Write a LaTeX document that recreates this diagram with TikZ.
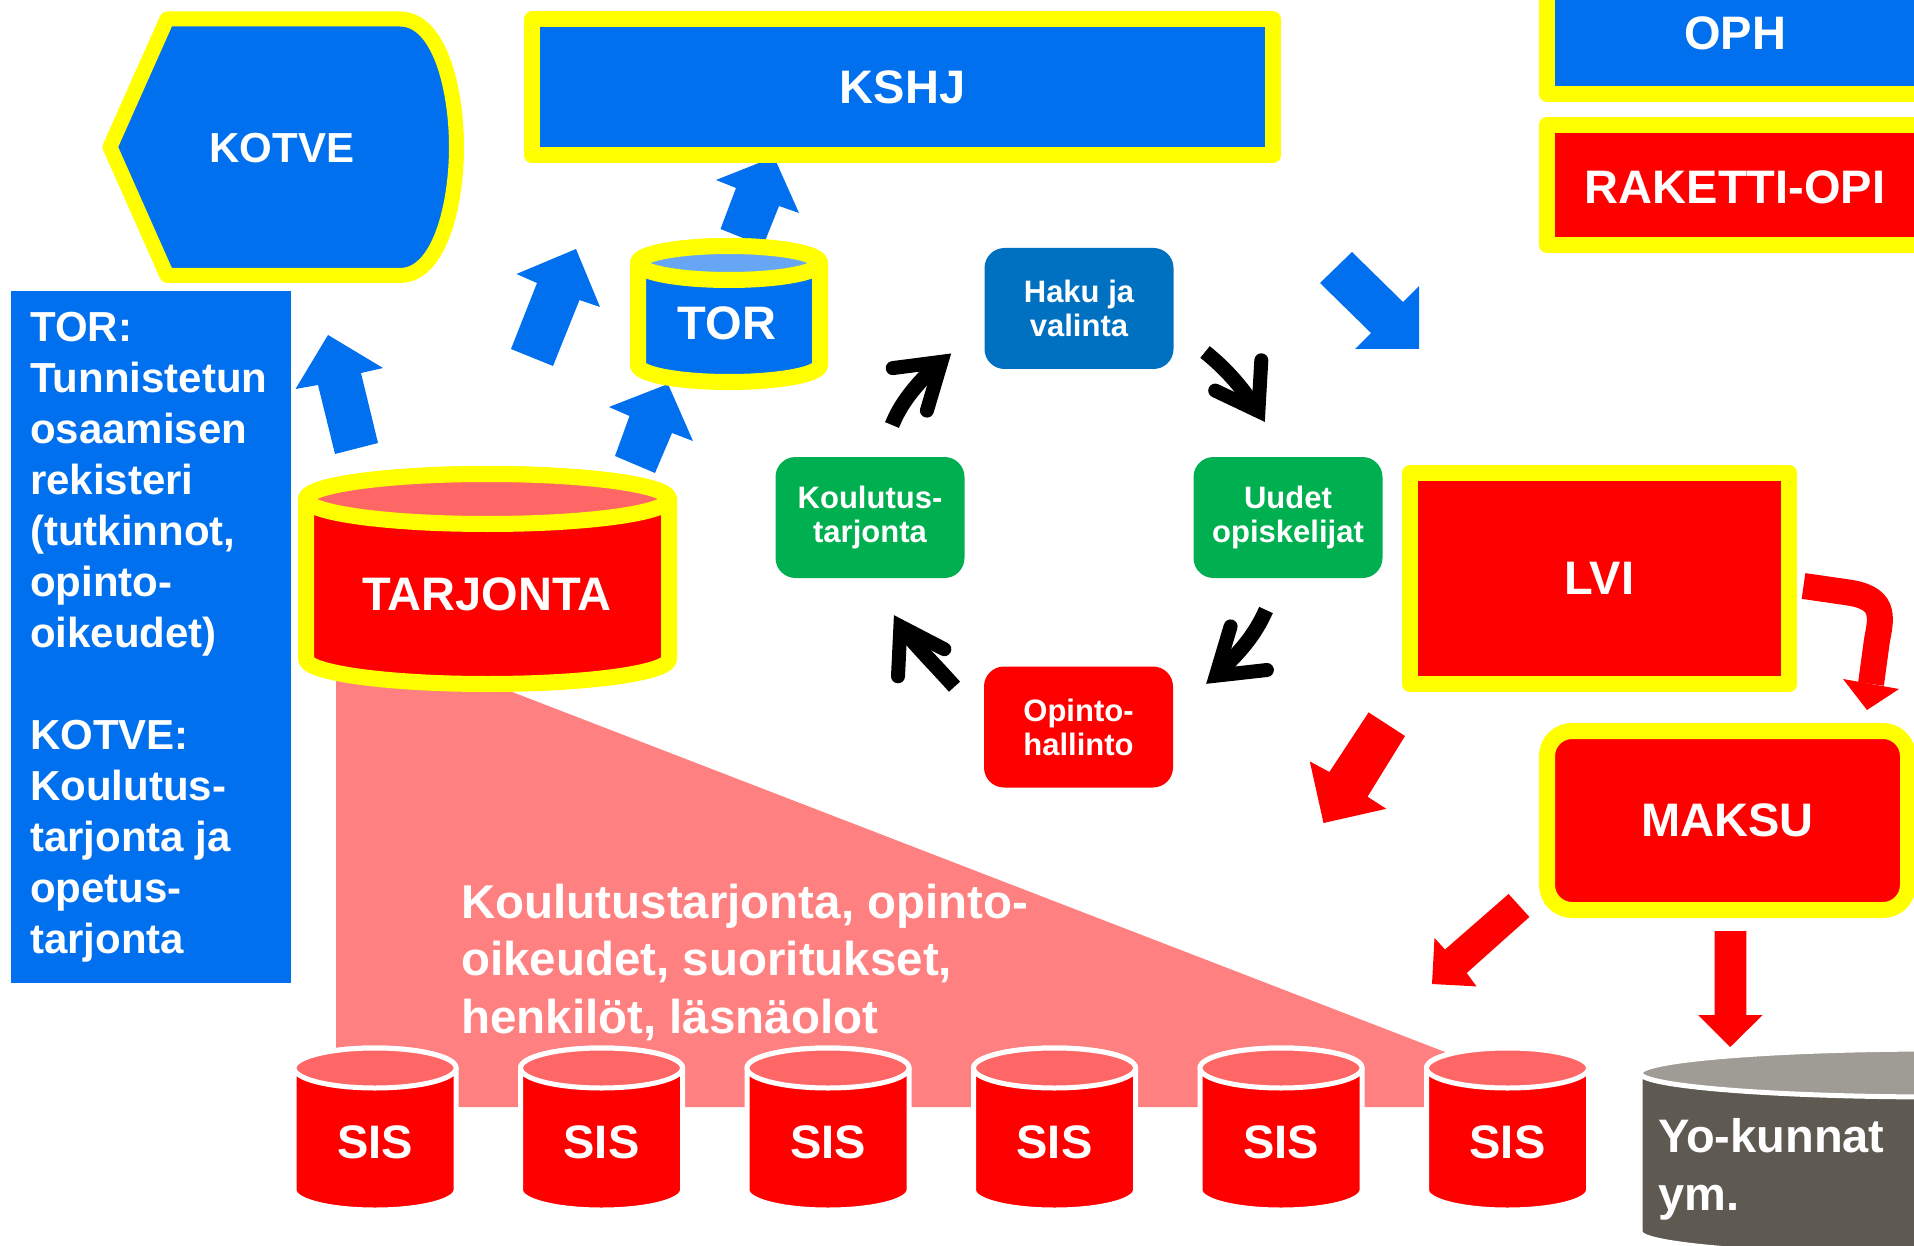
\documentclass[tikz,border=0pt]{standalone}
\usepackage{fontspec}
\setmainfont{Liberation Sans}
\definecolor{myblue}{RGB}{0,112,238}
\definecolor{hakublue}{RGB}{0,112,192}
\definecolor{mygreen}{RGB}{0,176,80}
\definecolor{myyellow}{RGB}{255,255,0}
\definecolor{myred}{RGB}{255,0,0}
\definecolor{salmon}{RGB}{255,102,102}
\definecolor{pinkfill}{RGB}{255,128,128}
\definecolor{lightblue}{RGB}{102,166,245}
\definecolor{graytop}{RGB}{158,156,148}
\definecolor{graybody}{RGB}{94,90,81}
\newcommand{\mycyl}[8]{%
  \filldraw[fill=#6,#8] ({#1-#4},#2) -- ({#1-#4},#3) arc[start angle=180,end angle=0,x radius=#4,y radius=#5] -- ({#1+#4},#2) arc[start angle=0,end angle=-180,x radius=#4,y radius=#5] -- cycle;
  \filldraw[fill=#7,#8] (#1,#2) ellipse[x radius=#4,y radius=#5];
}
\begin{document}
\begin{tikzpicture}[x=1pt,y=1pt,yscale=-1,
  yelbox/.style={draw=myyellow, line width=16pt, line join=round},
  big/.style={text=white, font=\bfseries\fontsize{47}{56}\selectfont, inner sep=0pt},
  cyc/.style={text=white, font=\bfseries\fontsize{31}{34}\selectfont, align=center, rounded corners=20pt, minimum width=189pt, minimum height=121pt, inner sep=0pt},
  shaft/.style={line width=15pt, black},
  head/.style={line width=14pt, black, line cap=round, line join=miter},
  yelcyl/.style={draw=myyellow, line width=16pt, line join=round},
  whitecyl/.style={draw=white, line width=5pt}
]
\useasboundingbox (0,0) rectangle (1914,1246);
\clip (0,0) rectangle (1914,1246);

% pink background
\fill[pinkfill] (336,624) -- (1445,1052) -- (1445,1107) -- (336,1107) -- cycle;

% blue block arrows
\fill[myblue] (774,157) -- (799,213) -- (779,206) -- (763,246) -- (720.5,229) -- (736,188) -- (716,180) -- cycle;
\fill[myblue] (328,335) -- (383,368) -- (361,373) -- (378,443) -- (335,454) -- (318,385) -- (295.5,389) -- cycle;
\fill[myblue] (576,249) -- (600,307) -- (579.5,300) -- (553,366) -- (511,349) -- (537,283) -- (516.5,274) -- cycle;
\fill[myblue] (668,384) -- (693,441) -- (672,433) -- (655,473) -- (615,456) -- (629.5,416) -- (609,407) -- cycle;
\fill[myblue] (1352,252) -- (1320,283) -- (1371,333) -- (1355,349) -- (1419,349) -- (1419,286) -- (1403,302) -- cycle;

% red block arrows
\fill[myred] (1405,736) -- (1368.6,712.4) -- (1329.4,772) -- (1309.8,761.4) -- (1323.5,823) -- (1386.3,808.8) -- (1367.5,796.7) -- cycle;
\fill[myred] (1508.6,894) -- (1529.4,917) -- (1466.7,973) -- (1476.5,986.4) -- (1432,984) -- (1434.5,938) -- (1445,949.5) -- cycle;
\fill[myred] (1714.5,931) -- (1746.3,931) -- (1746.3,1015) -- (1762.7,1015) -- (1730.2,1047) -- (1698,1015) -- (1714.5,1015) -- cycle;
\draw[myred, line width=26pt] (1803.5,586) -- (1845,592) .. controls (1885,597) and (1882,615) .. (1877,640) -- (1871,684);
\fill[myred] (1843,679) -- (1867,710) -- (1899,689) -- cycle;

% KOTVE
\filldraw[fill=myblue, draw=myyellow, line width=15pt, line join=round]
  (167,19) -- (400,19) .. controls (440,19) and (456.5,90) .. (456.5,147)
  .. controls (456.5,204) and (440,275.5) .. (400,275.5) -- (167,275.5) -- (110,147) -- cycle;
\node[big, font=\bfseries\fontsize{42}{50}\selectfont] (kotve) at (282,148) {KOTVE};

% KSHJ
\node[yelbox, fill=myblue, minimum width=741pt, minimum height=135.5pt, big] (kshj) at (902.5,87.25) {KSHJ};

% OPH, RAKETTI-OPI
\draw[yelbox, fill=myblue] (1547,-30) rectangle (1940,94);
\node[big] (oph) at (1735,33) {OPH};
\draw[yelbox, fill=myred] (1547,125) rectangle (1940,245);
\node[big] (raketti) at (1735,187) {RAKETTI-OPI};

% TOR cylinder
\mycyl{729}{263}{365}{91}{17}{myblue}{lightblue}{yelcyl}
\node[big] (tor) at (727,323) {TOR};

% TARJONTA cylinder
\mycyl{487.5}{499}{659}{181.5}{25}{myred}{salmon}{yelcyl}
\node[big] (tarjonta) at (487,594) {TARJONTA};

% legend box
\fill[myblue] (11,291) rectangle (291,983);
\node[anchor=base west, inner sep=0pt, text=white, font=\bfseries\fontsize{42}{51}\selectfont] (legend) at (30,342)
 {\vtop{\hbox{TOR:}\hbox{Tunnistetun}\hbox{osaamisen}\hbox{rekisteri}\hbox{(tutkinnot,}\hbox{opinto-}\hbox{oikeudet)}\hbox{}\hbox{KOTVE:}\hbox{Koulutus-}\hbox{tarjonta ja}\hbox{opetus-}\hbox{tarjonta}}};

% cycle boxes
\node[cyc, fill=hakublue] (haku) at (1079,308.5) {Haku ja\\valinta};
\node[cyc, fill=mygreen] (koul) at (870,517.5) {Koulutus-\\tarjonta};
\node[cyc, fill=mygreen] (uudet) at (1288,517.5) {Uudet\\opiskelijat};
\node[cyc, fill=myred] (opinto) at (1078.5,727) {Opinto-\\hallinto};

% black cycle arrows
\draw[shaft] (892,425) .. controls (900,405) and (914,386) .. (938,364);
\draw[head] (892.7,368.1) -- (941.4,361.8) -- (926.9,410.6);
\draw[shaft] (1205,352) .. controls (1225,368) and (1240,385) .. (1255,407);
\draw[head] (1215.2,390.6) -- (1258.4,411.1) -- (1261.3,360.3);
\draw[shaft] (1266,610) .. controls (1255,635) and (1240,652) .. (1219,672);
\draw[head] (1230.6,626.4) -- (1215.9,675.7) -- (1266.9,670);
\draw[shaft] (954.5,686.7) .. controls (935,665) and (920,650) .. (904,631);
\draw[head] (898,676.3) -- (900.4,626.4) -- (944.3,649.2);

% LVI, MAKSU
\node[yelbox, fill=myred, minimum width=379.5pt, minimum height=211.3pt, big] (lvi) at (1599.5,578.4) {LVI};
\node[yelbox, fill=myred, rounded corners=25pt, minimum width=361pt, minimum height=179pt, big] (maksu) at (1727.5,820.5) {MAKSU};

% pink text
\node[anchor=base west, inner sep=0pt, text=white, font=\bfseries\fontsize{47.5}{57.5}\selectfont] (pinktext) at (461,918)
 {\vtop{\hbox{Koulutustarjonta, opinto-}\hbox{oikeudet, suoritukset,}\hbox{henkilöt, läsnäolot}}};

% SIS cylinders
\foreach \i/\cx in {1/375,2/601.5,3/828,4/1054.5,5/1281,6/1507.5}{
  \mycyl{\cx}{1068}{1190}{81}{20}{myred}{salmon}{whitecyl}
  \node[big] (sis\i) at (\cx,1142) {SIS};
}

% Yo-kunnat cylinder
\mycyl{1940}{1073}{1232}{300}{24}{graybody}{graytop}{whitecyl}
\node[anchor=base west, inner sep=0pt, text=white, font=\bfseries\fontsize{47}{58}\selectfont] (yo) at (1658,1152)
 {\vtop{\hbox{Yo-kunnat}\hbox{ym.}}};
\end{tikzpicture}
\end{document}
